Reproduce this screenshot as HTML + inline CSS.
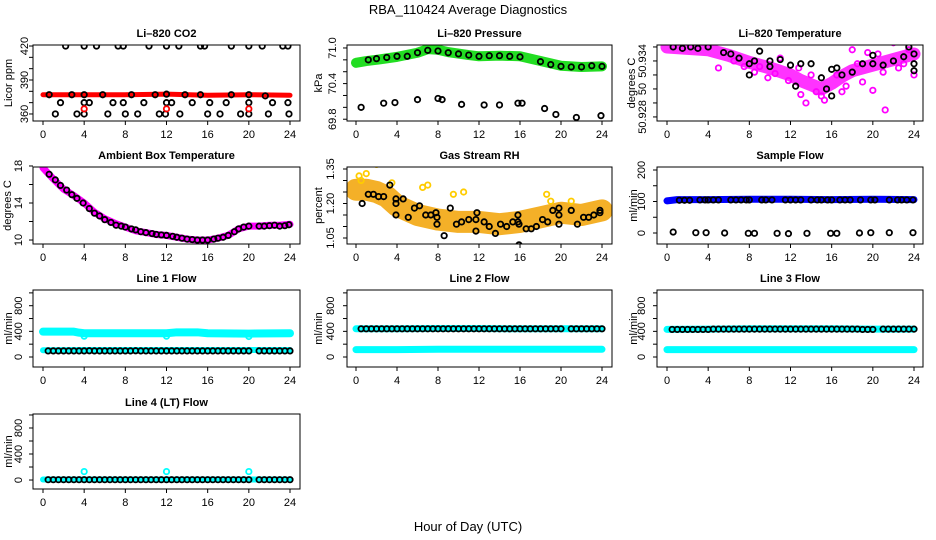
<!DOCTYPE html>
<html><head><meta charset="utf-8"><style>
body{margin:0;background:#fff;}
svg{display:block;font-family:"Liberation Sans",sans-serif;}
</style></head><body>
<svg id="chart" width="936" height="540" viewBox="0 0 936 540" xmlns="http://www.w3.org/2000/svg">
<text x="468" y="14" text-anchor="middle" font-size="13">RBA_110424  Average Diagnostics</text>
<text x="468" y="531" text-anchor="middle" font-size="13">Hour of Day (UTC)</text>
</svg>
<script>
// ---- data ----
const xTicks=[0,4,8,12,16,20,24];
const co2Band=[[0,377],[4,377],[8,377],[12,377.5],[16,376.5],[20,377],[24,376.5]];
const co2Black=[[2.2,420],[4,420],[5.2,420],[7.3,420],[7.8,420],[10.3,420],[12,420],[13.2,420],[15.3,420],[15.7,420],[18.3,420],[20,420],[21.3,420],[23.3,420],[23.8,420],
[0.6,377],[2.8,377],[4,377],[5.8,377],[8.6,377],[10.9,377],[12,377.5],[13.8,377],[15.3,377],[18.3,377],[20,377],[21.6,376],
[1.7,370],[4,370],[4.5,370],[6.8,370],[7.8,370],[9.8,370],[12,370],[12.5,370],[14.5,370],[16.2,370],[17.8,370],[20,370],[22.3,370],[23.8,370],
[1.2,360],[3.3,360],[4,360],[6.3,360],[8,360],[9.2,360],[11.3,360],[11.9,360],[13.3,360],[16,360],[17.2,360],[19.2,360],[20,360],[21.9,360],[23.9,360]];
const co2Red=[[4,364.5],[12,364.5],[20,364.5]];
const presBand=[[0,70.75],[1,70.78],[2,70.80],[4,70.85],[6,70.92],[7,70.98],[8,70.97],[9,70.93],[11,70.88],[12,70.86],[14,70.87],[16,70.86],[18,70.78],[20,70.70],[22,70.68],[24,70.69]];
const presBlack=[[0.5,70.0],[1.2,70.8],[2,70.82],[3,70.84],[4,70.86],[5,70.86],[6,70.92],[7,70.96],[8,70.95],[9,70.92],[10,70.9],[11,70.88],[12,70.86],[13,70.87],[14,70.87],[15,70.86],[16,70.85],[18,70.77],[19,70.72],[20,70.69],[21,70.68],[22,70.68],[23,70.70],[24,70.69],
[2.7,70.07],[3.8,70.08],[6,70.13],[8,70.15],[8.4,70.13],[10.3,70.05],[12.5,70.04],[14,70.04],[15.8,70.07],[16.2,70.07],[18.4,69.98],[19.5,69.88],[21.5,69.83],[23.9,69.86]];
const tempBand=[[0,50.9330],[2,50.9329],[4,50.9328],[6,50.9324],[8,50.9319],[10,50.9315],[12,50.9310],[13,50.9306],[14,50.9303],[15,50.9300],[16,50.9304],[17,50.9309],[18,50.9313],[20,50.9317],[22,50.9321],[24,50.9325]];
const tempMag=[[5,50.9315],[7.5,50.9316],[9,50.9316],[10.5,50.9311],[13.5,50.9290],[14.5,50.9298],[15.3,50.9292],[17.4,50.9302],[20,50.9299],[21.2,50.9285],[18,50.9328],[22,50.9333],[23,50.9318],[24,50.9310],[11,50.9322],[19.5,50.9326],
[6.5,50.9320],[8.5,50.9312],[11.8,50.9306],[12.8,50.9315],[14,50.9310],[15,50.9295],[16.5,50.9310],[17,50.9298],[18.5,50.9318],[19,50.9305],[20.5,50.9325],[21,50.9312],[22.5,50.9315],[23.5,50.9328],[9.8,50.9308],[13,50.9296]];
const tempBlack=[[0.6,50.9330],[1.5,50.9329],[2.3,50.9330],[3.0,50.9329],[4.0,50.9330],[5.5,50.9326],[6.2,50.9325],[7.0,50.9322],[8.0,50.9318],[8.0,50.9310],[8.5,50.9320],[9.0,50.9327],[10.0,50.9320],[10.0,50.9316],[11.0,50.9321],[12.0,50.9317],[12.5,50.9302],[13.0,50.9318],[14.0,50.9318],[15.0,50.9308],[15.5,50.9300],[16.0,50.9295],[16.0,50.9314],[16.5,50.9315],[17.0,50.9310],[18.0,50.9312],[19.0,50.9318],[20.0,50.9324],[20.0,50.9318],[21.0,50.9317],[22.0,50.9320],[23.0,50.9323],[23.5,50.9330],[24.0,50.9325],[24.0,50.9318],[24.0,50.9313]];
const ambBand=[[0,17.8],[1,16.6],[2,15.5],[3,14.8],[4,14.0],[5,13.0],[6,12.3],[7,11.8],[8,11.4],[9,11.0],[10,10.8],[11,10.6],[12,10.5],[13,10.3],[14,10.1],[15,10.0],[16,10.0],[17,10.2],[18,10.5],[19,11.2],[20,11.5],[21,11.5],[22,11.6],[23,11.6],[24,11.7]];
const ambBlack=[[0.6,17.1],[1.2,16.5],[1.7,15.9],[2.3,15.4],[2.8,14.9],[3.3,14.5],[3.9,14.0],[4.5,13.4],[5.0,12.9],[5.5,12.6],[6.0,12.2],[6.6,11.9],[7.1,11.6],[7.6,11.5],[8.0,11.4],[8.6,11.2],[9.0,11.1],[9.5,10.9],[10.0,10.8],[10.6,10.7],[11.0,10.6],[11.5,10.55],[12.0,10.5],[12.6,10.4],[13.0,10.3],[13.5,10.2],[14.0,10.1],[14.5,10.05],[15.0,10.0],[15.5,10.0],[16.0,10.0],[16.6,10.1],[17.0,10.2],[17.5,10.3],[18.0,10.5],[18.6,10.9],[19.0,11.2],[19.5,11.4],[20.0,11.5],[21.0,11.5],[21.5,11.5],[22.0,11.55],[22.5,11.6],[23.0,11.5],[23.5,11.55],[23.9,11.65]];
const rhBand=[[0,1.26],[1,1.26],[2,1.25],[3,1.23],[4,1.19],[5,1.17],[6,1.15],[8,1.13],[10,1.12],[12,1.12],[14,1.11],[16,1.12],[18,1.14],[20,1.16],[22,1.15],[24,1.17]];
const rhYellow=[[0.3,1.32],[1,1.33],[2,1.37],[3.5,1.29],[6.5,1.27],[7,1.28],[9.5,1.24],[10.5,1.25],[18.6,1.24],[19,1.21],[21,1.21],[0.5,1.30]];
const rhBlack=[[0.6,1.20],[1.2,1.24],[1.7,1.24],[2.2,1.23],[2.7,1.23],[3.3,1.28],[3.9,1.22],[3.9,1.20],[3.9,1.15],[4.6,1.22],[5.1,1.14],[5.7,1.18],[6.2,1.19],[6.8,1.15],[7.3,1.15],[7.8,1.16],[7.9,1.14],[7.9,1.11],[8.6,1.06],[9.2,1.18],[9.8,1.11],[10.3,1.12],[11,1.13],[11.7,1.13],[11.8,1.16],[11.7,1.08],[12.5,1.12],[13,1.10],[13.6,1.07],[14.1,1.11],[14.7,1.10],[15.3,1.12],[15.8,1.15],[15.8,1.12],[15.9,1.11],[15.9,1.02],[16.6,1.09],[17.1,1.09],[17.6,1.10],[18.2,1.13],[18.7,1.12],[19.2,1.17],[19.8,1.18],[19.8,1.15],[19.8,1.11],[21,1.17],[21.6,1.11],[22.2,1.14],[22.7,1.14],[23.2,1.15],[23.8,1.17],[23.8,1.16]];
const sfBand=[[0,102],[1,106],[4,106],[8,107],[12,107],[16,106],[20,107],[24,106]];
const sfBlack=[[1.2,104],[1.7,104],[2.2,104],[3.2,105],[3.7,105],[4.0,105],[4.5,105],[5.0,105],[6.2,105],[6.7,105],[7.2,105],[7.7,105],[8.0,105],[9.2,105],[9.6,105],[10.2,105],[11.5,105],[12.0,105],[12.5,105],[13.0,105],[14.0,105],[14.6,105],[15.0,105],[15.6,105],[16.0,105],[16.8,105],[17.3,105],[17.8,105],[18.8,105],[19.8,105],[20.2,105],[21.6,105],[22.4,105],[22.8,105],[23.3,105],[23.9,105],
[0.6,3],[2.8,1],[3.8,1],[5.6,0],[7.9,-1],[8.5,-1],[10.7,-1],[11.8,-2],[13.6,-1],[15.9,-1],[16.5,-1],[18.7,0],[19.8,1],[21.6,1],[23.9,1]];
const flowHours=[0.5,1,1.5,2,2.5,3,3.5,4,4.5,5,5.5,6,6.5,7,7.5,8,8.5,9,9.5,10,10.5,11,11.5,12,12.5,13,13.5,14,14.5,15,15.5,16,16.5,17,17.5,18,18.5,19,19.5,20,21,21.5,22,22.5,23,23.5,24];
const l1Black=[95,95,95,95,95,95,95,95,97,95,95,95,95,95,95,95,95,97,95,95,95,95,95,95,95,95,95,95,95,95,95,95,95,95,95,95,95,95,95,95,95,95,95,95,95,95,95];
const l1HighBand=[[0,395],[3,395],[3.5,380],[4,370],[8,370],[12,370],[13,385],[15,385],[16,370],[20,365],[24,370]];
const l1LowBand=[[0,105],[4,110],[8,110],[12,110],[16,110],[20,110],[24,110]];
const l1Dips=[[4,325],[12,325],[20,320]];
const l2Black=[440,440,440,440,440,440,440,440,440,440,440,440,440,440,440,440,440,440,440,440,440,440,440,440,440,440,440,440,440,440,440,440,440,440,440,440,440,440,440,440,440,440,440,440,440,440,440];
const l2HighBand=[[0,440],[4,440],[8,445],[12,445],[16,440],[20,440],[24,440]];
const l2LowBand=[[0,115],[4,115],[8,120],[12,120],[16,120],[20,120],[24,120]];
const l3Black=[430,430,430,430,430,430,430,430,435,435,435,435,435,435,435,435,435,435,435,435,435,435,435,435,435,435,435,435,435,435,435,435,435,435,435,435,435,430,430,430,435,435,435,435,435,435,435];
const l3HighBand=[[0,430],[4,435],[8,440],[12,440],[16,440],[20,435],[24,435]];
const l3LowBand=[[0,115],[4,115],[8,115],[12,115],[16,115],[20,115],[24,115]];
const l4Black=[5,5,5,5,5,5,5,5,5,5,5,5,5,5,5,5,5,5,5,5,5,5,5,5,5,5,5,5,5,5,5,5,5,5,5,5,5,5,5,5,5,5,5,5,5,5,5];
const l4Band=[[0,8],[4,8],[8,8],[12,8],[16,8],[20,8],[24,8]];
const l4Cyan=[[4,130],[12,130],[20,130]];

// ---- layout ----
const NS='http://www.w3.org/2000/svg';
const svg=document.getElementById('chart');
const cols=[{l:33,r:300,x0:43,x24:290},{l:347,r:612,x0:356,x24:602},{l:657,r:923,x0:667,x24:914}];
const rows=[{t:45,b:121},{t:167,b:244},{t:290,b:367},{t:414,b:489}];
function mk(tag,attrs,parent){const e=document.createElementNS(NS,tag);for(const k in attrs)e.setAttribute(k,attrs[k]);(parent||svg).appendChild(e);return e;}

function panel(cfg){
  const c=cols[cfg.col],r=rows[cfg.row];
  const g=mk('g',{});
  
  
  const xs=h=>c.x0+(c.x24-c.x0)*h/24;
  const ys=v=>r.b-(v-cfg.lo)/(cfg.hi-cfg.lo)*(r.b-r.t);
  const t=mk('text',{x:(c.l+c.r)/2,y:r.t-8,'text-anchor':'middle','font-size':11,'font-weight':'bold'},g);
  t.textContent=cfg.title;
  
  
  xTicks.forEach(h=>{
    const tk=mk('line',{x1:xs(h),x2:xs(h),y1:r.b,y2:r.b+4,stroke:'#000'},g);
    
    
    const tl=mk('text',{x:xs(h),y:r.b+17,'text-anchor':'middle','font-size':11},g);
    tl.textContent=h;
    
    
  });
  cfg.ticks.forEach((v,i)=>{
    const y=ys(v);
    const tk=mk('line',{x1:c.l-4,x2:c.l,y1:y,y2:y,stroke:'#000'},g);
    
    
    const lab=cfg.labels[i];
    if(lab){
      const lx=c.l+cfg.ldx;
      const tl=mk('text',{x:lx,y:y,'text-anchor':'middle','font-size':11,transform:`rotate(-90 ${lx} ${y})`,dy:'0.35em'},g);
      tl.textContent=lab;
      
      
    }
  });
  const yl=c.l+cfg.ydx, ym=(r.t+r.b)/2;
  const yt=mk('text',{x:yl,y:ym,'text-anchor':'middle','font-size':11,transform:`rotate(-90 ${yl} ${ym})`,dy:'0.35em'},g);
  yt.textContent=cfg.ylab;
  
  
  const clipId='clip-'+cfg.name;
  const cp=mk('clipPath',{id:clipId},g);
  mk('rect',{x:c.l,y:r.t,width:c.r-c.l,height:r.b-r.t},cp);
  const dg=mk('g',{'clip-path':`url(#${clipId})`},g);
  (cfg.bands||[]).forEach(b=>{
    const p=mk('polyline',{points:b.d.map(q=>xs(q[0])+','+ys(q[1])).join(' '),fill:'none',stroke:b.c,'stroke-width':b.w,'stroke-linecap':'round','stroke-linejoin':'round'},dg);
    
    
  });
  (cfg.pts||[]).forEach(s=>{
    s.d.forEach(q=>{
      const ci=mk('circle',{cx:xs(q[0]),cy:ys(q[1]),r:s.r||2.7,fill:'none',stroke:s.c,'stroke-width':1.8},dg);
      
      
    });
  });
  const box=mk('rect',{x:c.l,y:r.t,width:c.r-c.l,height:r.b-r.t,fill:'none',stroke:'#000','stroke-width':1},g);
  
  
}
const zip=(h,v)=>h.map((x,i)=>[x,v[i]]);
const flowTicks=[0,200,400,600,800,1000], flowLabels=['0','','400','','800',''];

panel({name:'panel-co2',col:0,row:0,title:'Li–820 CO2',ylab:'Licor ppm',lo:353.8,hi:420.9,ticks:[360,370,380,390,400,410,420],labels:['360','','','390','','','420'],ldx:-9,ydx:-25,
 bands:[{d:co2Band,c:'#ff0000',w:5}],pts:[{d:co2Black,c:'#000'},{d:co2Red,c:'#ff0000'}]});
panel({name:'panel-pressure',col:1,row:0,title:'Li–820 Pressure',ylab:'kPa',lo:69.77,hi:71.05,ticks:[69.8,70.0,70.2,70.4,70.6,70.8,71.0],labels:['69.8','','','70.4','','','71.0'],ldx:-15,ydx:-29,
 bands:[{d:presBand,c:'#22dd22',w:10}],pts:[{d:presBlack,c:'#000'}]});
panel({name:'panel-licor-temp',col:2,row:0,title:'Li–820 Temperature',ylab:'degrees C',lo:50.92771,hi:50.93314,ticks:[50.928,50.929,50.930,50.931,50.932,50.933],labels:['50.928','','50','','50.934',''],ldx:-15,ydx:-26,
 bands:[{d:tempBand,c:'#ff33ff',w:13}],pts:[{d:tempMag,c:'#ff00ff'},{d:tempBlack,c:'#000'}]});
panel({name:'panel-ambient-temp',col:0,row:1,title:'Ambient Box Temperature',ylab:'degrees C',lo:9.57,hi:17.89,ticks:[10,12,14,16,18],labels:['10','','14','','18'],ldx:-15,ydx:-26,
 bands:[{d:ambBand,c:'#ff00ff',w:7}],pts:[{d:ambBlack,c:'#000'}]});
panel({name:'panel-gas-rh',col:1,row:1,title:'Gas Stream RH',ylab:'percent',lo:1.0239,hi:1.3587,ticks:[1.05,1.10,1.15,1.20,1.25,1.30,1.35],labels:['1.05','','','1.20','','','1.35'],ldx:-17,ydx:-29,
 bands:[{d:rhBand,c:'#f4b028',w:22}],pts:[{d:rhYellow,c:'#ffcc00'},{d:rhBlack,c:'#000'}]});
panel({name:'panel-sample-flow',col:2,row:1,title:'Sample Flow',ylab:'ml/min',lo:-34.9,hi:209.5,ticks:[0,50,100,150,200],labels:['0','','100','','200'],ldx:-16,ydx:-24,
 bands:[{d:sfBand,c:'#0000ff',w:7}],pts:[{d:sfBlack,c:'#000'}]});
panel({name:'panel-line1-flow',col:0,row:2,title:'Line 1 Flow',ylab:'ml/min',lo:-156,hi:1045,ticks:flowTicks,labels:flowLabels,ldx:-15,ydx:-25,
 bands:[{d:l1HighBand,c:'#00ffff',w:8},{d:l1LowBand,c:'#00ffff',w:6}],pts:[{d:l1Dips,c:'#00ffff'},{d:zip(flowHours,l1Black),c:'#000'}]});
panel({name:'panel-line2-flow',col:1,row:2,title:'Line 2 Flow',ylab:'ml/min',lo:-156,hi:1045,ticks:flowTicks,labels:flowLabels,ldx:-17,ydx:-29,
 bands:[{d:l2HighBand,c:'#00ffff',w:7},{d:l2LowBand,c:'#00ffff',w:7}],pts:[{d:zip(flowHours,l2Black),c:'#000'}]});
panel({name:'panel-line3-flow',col:2,row:2,title:'Line 3 Flow',ylab:'ml/min',lo:-156,hi:1045,ticks:flowTicks,labels:flowLabels,ldx:-16,ydx:-24,
 bands:[{d:l3HighBand,c:'#00ffff',w:7},{d:l3LowBand,c:'#00ffff',w:7}],pts:[{d:zip(flowHours,l3Black),c:'#000'}]});
panel({name:'panel-line4-flow',col:0,row:3,title:'Line 4 (LT) Flow',ylab:'ml/min',lo:-138,hi:1015,ticks:flowTicks,labels:flowLabels,ldx:-15,ydx:-25,
 bands:[{d:l4Band,c:'#00ffff',w:6}],pts:[{d:l4Cyan,c:'#00ffff'},{d:zip(flowHours,l4Black),c:'#000'}]});
</script>
</body></html>
